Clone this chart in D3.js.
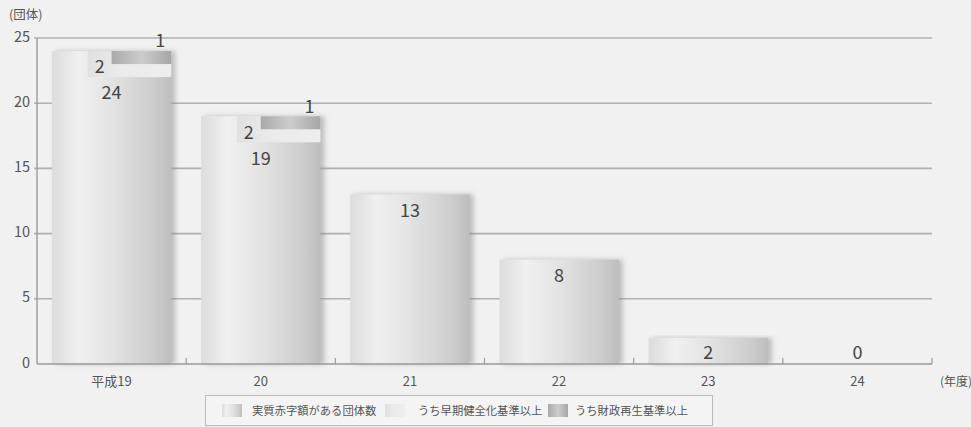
<!DOCTYPE html>
<html><head><meta charset="utf-8">
<script src="https://cdn.jsdelivr.net/npm/d3@7"></script>
<style>
html,body{margin:0;padding:0;background:#f1f1f1;}
svg{display:block;font-family:"Noto Sans CJK JP","Noto Sans",sans-serif;}
</style></head>
<body>
<svg id="chart" width="971" height="427"></svg>
<script>
const categories = ["平成19", "20", "21", "22", "23", "24"];
const deficitCount = [24, 19, 13, 8, 2, 0];
const earlyCount = [2, 2, 0, 0, 0, 0];
const rebuildCount = [1, 1, 0, 0, 0, 0];
const yTicks = [0, 5, 10, 15, 20, 25];
const legendLabels = ["実質赤字額がある団体数", "うち早期健全化基準以上", "うち財政再生基準以上"];

const svg = d3.select("#chart");
const W = 971, H = 427;
const m = {left: 37, right: 39, top: 38, bottom: 63};
svg.append("rect").attr("width", W).attr("height", H).attr("fill", "#f1f1f1");

const x = d3.scaleBand().domain(categories).range([m.left, W - m.right]).paddingInner(0.2).paddingOuter(0.1);
const step = x.step();
const y = d3.scaleLinear().domain([0, 25]).range([H - m.bottom, m.top]);

const defs = svg.append("defs");
const g1 = defs.append("linearGradient").attr("id", "barGrad");
[[0, "#dcdcdc"], [0.22, "#f0f0f0"], [0.5, "#e3e3e3"], [0.85, "#cdcdcd"], [1, "#bebebe"]].forEach(s =>
  g1.append("stop").attr("offset", s[0]).attr("stop-color", s[1]));
const g2 = defs.append("linearGradient").attr("id", "darkGrad");
[[0, "#a9a9a9"], [0.5, "#cdcdcd"], [1, "#a6a6a6"]].forEach(s =>
  g2.append("stop").attr("offset", s[0]).attr("stop-color", s[1]));
const g3 = defs.append("linearGradient").attr("id", "lightGrad");
[[0, "#e0e0e0"], [0.4, "#ebebeb"], [1, "#eeeeee"]].forEach(s =>
  g3.append("stop").attr("offset", s[0]).attr("stop-color", s[1]));
const f = defs.append("filter").attr("id", "shadow").attr("x", "-10%").attr("y", "-10%").attr("width", "130%").attr("height", "120%");
f.append("feDropShadow").attr("dx", 4).attr("dy", 0).attr("stdDeviation", 2.5).attr("flood-color", "#888").attr("flood-opacity", 0.5);

// grid lines
svg.append("g").selectAll("line").data(yTicks.filter(d => d > 0)).join("line")
  .attr("x1", m.left - 3).attr("x2", W - m.right)
  .attr("y1", d => y(d)).attr("y2", d => y(d))
  .attr("stroke", "#b0b0b0").attr("stroke-width", 1.6);

// y axis line
svg.append("line").attr("x1", m.left).attr("x2", m.left).attr("y1", y(25)).attr("y2", y(0))
  .attr("stroke", "#9a9a9a").attr("stroke-width", 1.4);

// y tick labels
svg.append("g").selectAll("text").data(yTicks).join("text")
  .attr("x", 30).attr("y", d => y(d)).attr("dy", "0.25em")
  .attr("text-anchor", "end").attr("font-size", 14.5).attr("fill", "#555").text(d => d);
svg.append("text").attr("x", 9).attr("y", 19).attr("font-size", 12.5).attr("fill", "#555").text("(団体)");

// bars
const bars = svg.append("g");
categories.forEach((c, i) => {
  const v = deficitCount[i];
  const bx = x(c), bw = x.bandwidth();
  if (v > 0) {
    bars.append("rect").attr("x", bx).attr("y", y(v)).attr("width", bw).attr("height", y(0) - y(v))
      .attr("fill", "url(#barGrad)").attr("filter", "url(#shadow)");
  }
  const e = earlyCount[i], r = rebuildCount[i];
  if (e > 0) {
    bars.append("rect").attr("x", bx + bw * 0.3).attr("y", y(v)).attr("width", bw * 0.7).attr("height", y(v - e) - y(v))
      .attr("fill", "url(#lightGrad)");
  }
  if (r > 0) {
    bars.append("rect").attr("x", bx + bw * 0.5).attr("y", y(v)).attr("width", bw * 0.5).attr("height", y(v - r) - y(v))
      .attr("fill", "url(#darkGrad)");
    bars.append("text").attr("x", bx + bw - 11).attr("y", y(v) - 10).attr("dy", "0.35em")
      .attr("text-anchor", "middle").attr("font-size", 18).attr("fill", "#444").text(r);
  }
  if (e > 0) {
    bars.append("text").attr("x", bx + bw * 0.4).attr("y", y(v) + 16).attr("dy", "0.35em")
      .attr("text-anchor", "middle").attr("font-size", 18).attr("fill", "#444").text(e);
  }
  const ly = Math.min(y(v - e) + 16, y(0) - 11);
  bars.append("text").attr("x", bx + bw / 2).attr("y", ly).attr("dy", "0.35em")
    .attr("text-anchor", "middle").attr("font-size", 18).attr("fill", "#444").text(v);
});

// x axis
svg.append("line").attr("x1", m.left).attr("x2", W - m.right).attr("y1", y(0)).attr("y2", y(0))
  .attr("stroke", "#9a9a9a").attr("stroke-width", 1.6);
svg.append("g").selectAll("line").data(categories).join("line")
  .attr("x1", d => x(d) - x.paddingOuter() * step + step).attr("x2", d => x(d) - x.paddingOuter() * step + step)
  .attr("y1", y(0)).attr("y2", y(0) - 6).attr("stroke", "#9a9a9a").attr("stroke-width", 1.2);
svg.append("g").selectAll("text").data(categories).join("text")
  .attr("x", d => x(d) + x.bandwidth() / 2).attr("y", 386)
  .attr("text-anchor", "middle").attr("font-size", 13).attr("fill", "#555").text(d => d);
svg.append("text").attr("x", 940).attr("y", 386).attr("font-size", 12).attr("fill", "#555").text("(年度)");

// legend
const lg = svg.append("g");
lg.append("rect").attr("x", 205.5).attr("y", 395.5).attr("width", 507).attr("height", 30)
  .attr("fill", "#f4f4f4").attr("stroke", "#bbb").attr("stroke-width", 1);
const sw = [
  {x: 222, fill: "url(#barGrad)"},
  {x: 385, fill: "url(#lightGrad)"},
  {x: 548, fill: "url(#darkGrad)"}
];
const tx = [252, 418, 575];
legendLabels.forEach((t, i) => {
  lg.append("rect").attr("x", sw[i].x).attr("y", 404).attr("width", 20).attr("height", 13).attr("fill", sw[i].fill);
  lg.append("text").attr("x", tx[i]).attr("y", 411).attr("dy", "0.35em").attr("font-size", 11.3).attr("fill", "#555").text(t);
});
</script>
</body></html>
